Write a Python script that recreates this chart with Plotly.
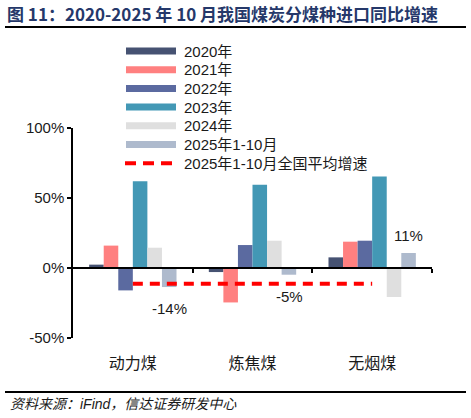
import plotly.graph_objects as go

# 数据（同比增速，%）
categories = ["动力煤", "炼焦煤", "无烟煤"]
series_names = ["2020年", "2021年", "2022年", "2023年", "2024年", "2025年1-10月"]
values = {
    "2020年": [2.4, -2.9, 7.6],
    "2021年": [16.0, -24.6, 18.8],
    "2022年": [-16.0, 16.4, 19.5],
    "2023年": [62.0, 59.5, 65.4],
    "2024年": [14.5, 19.5, -20.7],
    "2025年1-10月": [-13.6, -4.8, 10.7],
}
avg_name = "2025年1-10月全国平均增速"
avg_value = -11.2
label_2025 = ["-14%", "-5%", "11%"]
y_ticks = [-50, 0, 50, 100]

colors = ["#465272", "#FF8080", "#5B6AA0", "#4398B5", "#DFDFDF", "#AEBACD"]
font_main = "Liberation Sans, Arial, Noto Sans CJK SC"

# plot area in pixels (for placing header/legend/footer)
W, H = 471, 418
L, R, T, B = 73, 39, 128, 80
pw, ph = W - L - R, H - T - B


def px(x):
    return (x - L) / pw


def py(y):
    return (H - B - y) / ph


fig = go.Figure()

for name, c in zip(series_names, colors):
    fig.add_trace(go.Bar(x=categories, y=values[name], name=name,
                         marker=dict(color=c, line=dict(width=0)),
                         showlegend=False))

# national average line, from first to last category centre
fig.add_trace(go.Scatter(x=[0, len(categories) - 1], y=[avg_value, avg_value],
                         mode="lines", name=avg_name, xaxis="x2", showlegend=False,
                         line=dict(color="#FF0000", width=4, dash="10px,7px")))

# value labels for 2025 bars
last = values["2025年1-10月"]
for i, (v, t) in enumerate(zip(last, label_2025)):
    fig.add_annotation(x=i + 0.306, y=v, text=t, showarrow=False,
                       xref="x", yref="y",
                       yanchor="top" if v < 0 else "bottom",
                       yshift=-11 if v < 0 else 7,
                       font=dict(size=15, color="#1a1a1a", family=font_main))

# hand-drawn legend (wide swatches like the original)
leg_names = series_names + [avg_name]
leg_colors = colors + ["#FF0000"]
for k, (name, c) in enumerate(zip(leg_names, leg_colors)):
    yy = py(51 + 18.7 * k)
    if k < len(series_names):
        fig.add_shape(type="line", xref="paper", yref="paper",
                      x0=px(126), x1=px(176), y0=yy, y1=yy,
                      line=dict(color=c, width=7))
    else:
        fig.add_shape(type="line", xref="paper", yref="paper",
                      x0=px(125), x1=px(173), y0=yy, y1=yy,
                      line=dict(color=c, width=4, dash="11px,7px"))
    fig.add_annotation(text=name, xref="paper", yref="paper", x=px(182), y=yy,
                       xanchor="left", yanchor="middle", showarrow=False,
                       font=dict(size=15, color="#1a1a1a", family=font_main))

fig.update_layout(
    width=W, height=H,
    margin=dict(l=L, r=R, t=T, b=B),
    paper_bgcolor="white", plot_bgcolor="white",
    barmode="group", bargap=0.27, bargroupgap=0,
    showlegend=False,
    font=dict(family=font_main, size=15, color="#1a1a1a"),
    title=dict(text="<b>图 11：2020-2025 年 10 月我国煤炭分煤种进口同比增速</b>",
               x=7 / W, xanchor="left", y=1 - 15 / H, yanchor="middle",
               font=dict(family="Noto Sans CJK SC", size=17, color="#25386A")),
    xaxis=dict(type="category", categoryarray=categories, range=[-0.5, 2.5],
               showline=False, ticks="", showgrid=False, zeroline=False,
               tickfont=dict(size=16), ticklabelstandoff=14, automargin=False),
    xaxis2=dict(range=[-0.5, 2.5], overlaying="x", anchor="free", position=1 / 3,
                showline=True, linecolor="black", linewidth=1.5,
                ticks="outside", tickvals=[0.5, 1.5, 2.5], ticklen=4, tickcolor="black",
                tickwidth=1.5, showticklabels=False, showgrid=False, zeroline=False,
                automargin=False),
    yaxis=dict(range=[-50, 100], tickvals=y_ticks, ticktext=[f"{v}%" for v in y_ticks],
               showline=True, linecolor="black", linewidth=1.5,
               ticks="outside", ticklen=4, tickcolor="black", tickwidth=1.5,
               showgrid=False, zeroline=False, tickfont=dict(size=15), automargin=False),
)

# header and footer rules
fig.add_shape(type="line", xref="paper", yref="paper",
              x0=px(5), x1=px(466), y0=py(27), y1=py(27),
              line=dict(color="black", width=2))
fig.add_shape(type="line", xref="paper", yref="paper",
              x0=px(5), x1=px(466), y0=py(392), y1=py(392),
              line=dict(color="black", width=2))

fig.add_annotation(text="资料来源：iFind，信达证券研发中心", xref="paper", yref="paper",
                   x=px(8), y=py(404), xanchor="left", yanchor="middle", showarrow=False,
                   font=dict(size=14, style="italic", color="#1a1a1a", family=font_main))

# drop the browser's default page margin so the figure sits at the top-left corner
fig.write_html("out.html", config={"displayModeBar": False},
               post_script="document.body.style.margin='0px';document.body.style.overflow='hidden';")
